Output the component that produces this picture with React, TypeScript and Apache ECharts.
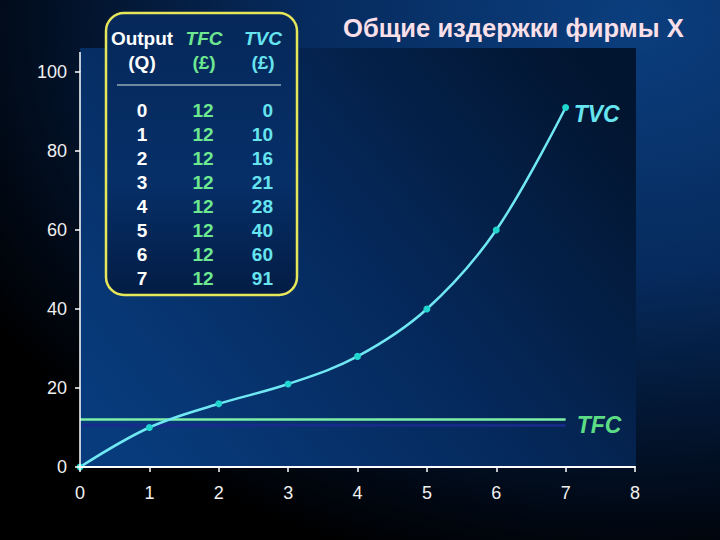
import React, { useEffect, useRef } from "react";
import * as echarts from "echarts";

const outputQ = [0, 1, 2, 3, 4, 5, 6, 7];
const tfcValues = [12, 12, 12, 12, 12, 12, 12, 12];
const tvcValues = [0, 10, 16, 21, 28, 40, 60, 91];
const titleText = "Общие издержки фирмы X";
const headerTop = ["Output", "TFC", "TVC"];
const headerBottom = ["(Q)", "(£)", "(£)"];

const FONT = '"Liberation Sans", Arial, Helvetica, sans-serif';
const WHITE = "#ffffff";
const GREEN = "#6ee890";
const CYAN = "#66e4f0";

export default function App() {
  const ref = useRef<HTMLDivElement>(null);
  useEffect(() => {
    document.body.style.margin = "0";
    if (!ref.current) return;
    const chart = echarts.init(ref.current, undefined, { renderer: "svg" });

    const tableTexts: any[] = [];
    const colX = [142, 204, 263];
    const colColors = [WHITE, GREEN, CYAN];
    headerTop.forEach((t, i) => {
      tableTexts.push({
        type: "text", x: colX[i], y: 38, z: 101,
        style: { text: t, fill: colColors[i], font: `${i === 0 ? "" : "italic "}bold 19px ${FONT}`, textAlign: "center", textVerticalAlign: "middle" },
      });
      tableTexts.push({
        type: "text", x: colX[i], y: 62, z: 101,
        style: { text: headerBottom[i], fill: colColors[i], font: `bold 19px ${FONT}`, textAlign: "center", textVerticalAlign: "middle" },
      });
    });
    outputQ.forEach((q, i) => {
      const y = 110 + 24 * i;
      tableTexts.push({ type: "text", x: 142, y, z: 101, style: { text: String(q), fill: WHITE, font: `bold 19px ${FONT}`, textAlign: "center", textVerticalAlign: "middle" } });
      tableTexts.push({ type: "text", x: 203, y, z: 101, style: { text: String(tfcValues[i]), fill: GREEN, font: `bold 19px ${FONT}`, textAlign: "center", textVerticalAlign: "middle" } });
      tableTexts.push({ type: "text", x: 273, y, z: 101, style: { text: String(tvcValues[i]), fill: CYAN, font: `bold 19px ${FONT}`, textAlign: "right", textVerticalAlign: "middle" } });
    });

    const baseGraphic: any[] = [
      {
        type: "rect", z: -10, silent: true,
        shape: { x: 80, y: 48, width: 556, height: 419 },
        style: {
          fill: {
            type: "linear", x: 0, y: 0.8, x2: 1, y2: 0.2,
            colorStops: [
              { offset: 0, color: "#083b7c" },
              { offset: 0.5, color: "#05295c" },
              { offset: 1, color: "#021530" },
            ],
          },
        },
      },
      { type: "line", z: 6, shape: { x1: 80, y1: 52, x2: 80, y2: 72 }, style: { stroke: "#ffffff", lineWidth: 1.5 } },
      {
        type: "rect", z: 100,
        shape: { x: 106, y: 13, width: 191, height: 282, r: 18 },
        style: {
          fill: {
            type: "linear", x: 0, y: 0, x2: 0, y2: 1,
            colorStops: [
              { offset: 0, color: "#06285a" },
              { offset: 0.6, color: "#062f68" },
              { offset: 1, color: "#031c44" },
            ],
          },
          stroke: "#e6e65a", lineWidth: 2.5,
        },
      },
      { type: "line", z: 101, shape: { x1: 117, y1: 85, x2: 281, y2: 85 }, style: { stroke: "#d8e8e0", lineWidth: 1 } },
      ...tableTexts,
    ];

    chart.setOption({
      animation: false,
      backgroundColor: {
        type: "radial", x: 0.88, y: 0.04, r: 1.05,
        colorStops: [
          { offset: 0, color: "#0b3e7e" },
          { offset: 0.45, color: "#062a5c" },
          { offset: 0.85, color: "#010a18" },
          { offset: 1, color: "#000000" },
        ],
      },
      title: {
        text: titleText,
        left: 338, top: 10,
        textStyle: { color: "#f9dfe8", fontSize: 25.6, fontWeight: "bold", fontFamily: FONT },
      },
      grid: { left: 80, right: 85, top: 72, bottom: 73 },
      xAxis: {
        type: "value", min: 0, max: 8, interval: 1, z: 5,
        splitLine: { show: false },
        axisLine: { show: true, lineStyle: { color: "#ffffff", width: 2 } },
        axisTick: { show: true, length: 5, lineStyle: { color: "#ffffff", width: 1.5 } },
        axisLabel: { color: "#f0f0f0", fontSize: 18, fontFamily: FONT, margin: 17 },
      },
      yAxis: {
        type: "value", min: 0, max: 100, interval: 20, z: 5,
        splitLine: { show: false },
        axisLine: { show: true, lineStyle: { color: "#ffffff", width: 1.5 } },
        axisTick: { show: true, length: 5, lineStyle: { color: "#ffffff", width: 1.5 } },
        axisLabel: { color: "#f0f0f0", fontSize: 18, fontFamily: FONT, margin: 13 },
      },
      graphic: baseGraphic,
      series: [
        {
          type: "line", name: "TFC", z: 3,
          data: outputQ.map((q, i) => [q, tfcValues[i]]),
          showSymbol: false, symbol: "none",
          lineStyle: { color: "#7ef0a8", width: 2.5 },
          endLabel: {
            show: true, formatter: "TFC", color: "#5cdc84", distance: 11, offset: [0, 5],
            fontSize: 23, fontWeight: "bold", fontStyle: "italic", fontFamily: FONT,
          },
        },
        {
          type: "line", name: "TVC", z: 4, smooth: 0.35,
          data: outputQ.map((q, i) => [q, tvcValues[i]]),
          symbol: "circle", symbolSize: 7, showSymbol: true,
          itemStyle: { color: "#22d6d0" },
          lineStyle: { color: "#70e8f4", width: 2.5 },
          endLabel: {
            show: true, formatter: "TVC", color: CYAN, distance: 8, offset: [0, 6],
            fontSize: 23, fontWeight: "bold", fontStyle: "italic", fontFamily: FONT,
          },
        },
      ],
    });

    // dark shadow under the TFC line, placed through the chart's own scales
    const p0 = chart.convertToPixel({ gridIndex: 0 }, [outputQ[0], tfcValues[0]]) as number[];
    const p1 = chart.convertToPixel({ gridIndex: 0 }, [outputQ[outputQ.length - 1], tfcValues[tfcValues.length - 1]]) as number[];
    chart.setOption({
      graphic: [
        ...baseGraphic,
        {
          type: "line", z: 1, silent: true,
          shape: { x1: p0[0] + 2, y1: p0[1] + 6, x2: p1[0], y2: p1[1] + 6 },
          style: { stroke: "#1a2a8c", lineWidth: 2.5 },
        },
      ],
    });
    return () => chart.dispose();
  }, []);
  return <div ref={ref} style={{ width: 720, height: 540 }} />;
}
